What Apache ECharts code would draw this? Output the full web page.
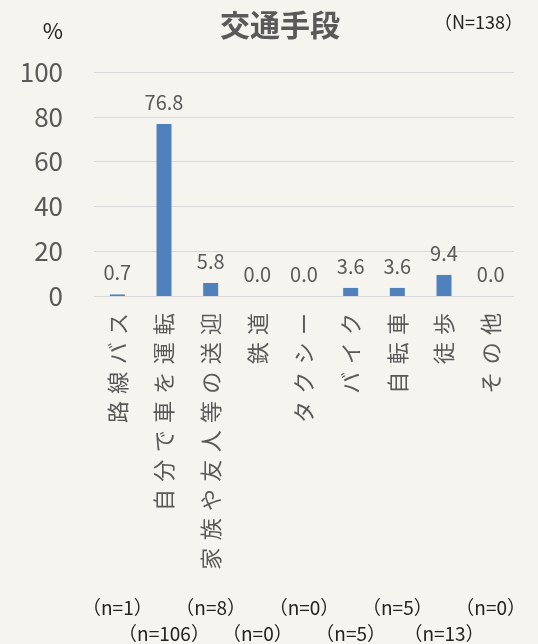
<!DOCTYPE html>
<html>
<head>
<meta charset="utf-8">
<script src="https://cdn.jsdelivr.net/npm/echarts@6/dist/echarts.min.js"></script>
<style>
html,body{margin:0;padding:0;background:#f5f4ef;}
#c{width:538px;height:644px;}
</style>
</head>
<body>
<div id="c"></div>
<script>
const categories = ['路線バス','自分で車を運転','家族や友人等の送迎','鉄道','タクシー','バイク','自転車','徒歩','その他'];
const values = [0.7, 76.8, 5.8, 0.0, 0.0, 3.6, 3.6, 9.4, 0.0];
const nCounts = [1, 106, 8, 0, 0, 5, 5, 13, 0];
const titleText = '交通手段';
const totalText = '（N=138）';
const unitText = '%';
const yMin = 0, yMax = 100, yStep = 20;

const FONT = '"Noto Sans CJK JP", "Noto Sans", sans-serif';
const GREY = '#595959';

const chart = echarts.init(document.getElementById('c'), null, {renderer: 'canvas'});

function nAxis(parity, offset) {
  return {
    type: 'category',
    data: categories,
    gridIndex: 0,
    position: 'bottom',
    offset: offset,
    axisLine: {show: false},
    axisTick: {show: false},
    splitLine: {show: false},
    axisLabel: {
      interval: function (i) { return i % 2 === parity; },
      margin: 0,
      fontFamily: FONT,
      fontSize: 19,
      color: '#222',
      formatter: function (v, i) { return '（n=' + nCounts[i] + '）'; }
    }
  };
}

chart.setOption({
  backgroundColor: '#f5f4ef',
  animation: false,
  grid: {left: 94, right: 24, top: 72, bottom: 348, containLabel: false},
  graphic: [
    {type: 'text', x: 280, y: 25, style: {text: titleText, font: 'bold 30px ' + FONT, fill: GREY, textAlign: 'center', textVerticalAlign: 'middle'}},
    {type: 'text', x: 53, y: 31, style: {text: unitText, font: '22px ' + FONT, fill: '#222', textAlign: 'center', textVerticalAlign: 'middle'}},
    {type: 'text', x: 434, y: 22, style: {text: totalText, font: '18px ' + FONT, fill: '#222', textAlign: 'left', textVerticalAlign: 'middle'}}
  ],
  xAxis: [
    {
      type: 'category',
      data: categories,
      axisLine: {show: false},
      axisTick: {show: false},
      axisLabel: {
        interval: 0,
        rotate: 90,
        margin: 17,
        fontFamily: FONT,
        fontSize: 22,
        color: GREY,
        formatter: function (v) { return v.split('').join('\u2004'); }
      }
    },
    nAxis(0, 302),
    nAxis(1, 328)
  ],
  yAxis: {
    type: 'value',
    min: yMin, max: yMax, interval: yStep,
    axisLine: {show: false},
    axisTick: {show: false},
    axisLabel: {margin: 31, fontFamily: FONT, fontSize: 26, color: GREY},
    splitLine: {lineStyle: {color: '#d9d9d9', width: 1}}
  },
  series: [{
    type: 'bar',
    data: values,
    barWidth: 15,
    itemStyle: {color: '#4f81bd'},
    label: {
      show: true,
      position: 'top',
      distance: 12,
      fontFamily: FONT,
      fontSize: 20,
      color: GREY,
      formatter: function (p) { return p.value.toFixed(1); }
    }
  }]
});
</script>
</body>
</html>
